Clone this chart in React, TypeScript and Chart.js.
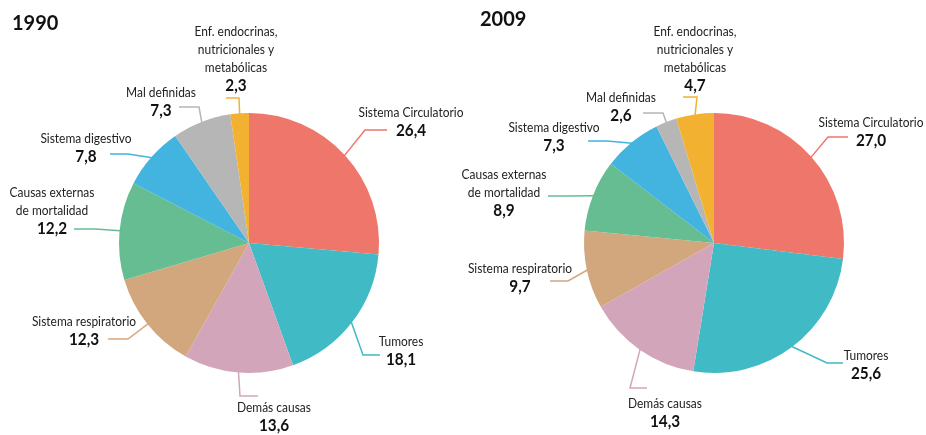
import React, { useEffect, useRef } from "react";
import { Chart, registerables } from "chart.js";

Chart.register(...registerables);

// ---- data ----
const categoryLines: string[][] = [
  ["Sistema Circulatorio"],
  ["Tumores"],
  ["Demás causas"],
  ["Sistema respiratorio"],
  ["Causas externas", "de mortalidad"],
  ["Sistema digestivo"],
  ["Mal definidas"],
  ["Enf. endocrinas,", "nutricionales y", "metabólicas"],
];
const categories = categoryLines.map((l) => l.join(" "));
const values1990 = [26.4, 18.1, 13.6, 12.3, 12.2, 7.8, 7.3, 2.3];
const values2009 = [27.0, 25.6, 14.3, 9.7, 8.9, 7.3, 2.6, 4.7];
const years = ["1990", "2009"];

const colors = [
  "#EE766B",
  "#40BAC4",
  "#D3A5BA",
  "#D3A77D",
  "#65BD91",
  "#43B3DF",
  "#B6B6B6",
  "#F3B132",
];

// ---- label layout (relative to pie centre): elbow, end of leader, text centre/value line ----
type Lay = { ex: number; ey: number; hx: number; cx: number; vy: number };
const layout1990: Lay[] = [
  { ex: 116, ey: -113, hx: 138, cx: 162, vy: -112 },
  { ex: 114, ey: 112, hx: 131, cx: 152, vy: 117 },
  { ex: -9, ey: 153, hx: 9, cx: 25, vy: 183 },
  { ex: -121, ey: 96, hx: -141, cx: -165, vy: 97 },
  { ex: -154, ey: -14, hx: -175, cx: -197, vy: -14 },
  { ex: -121, ey: -89, hx: -139, cx: -163, vy: -86 },
  { ex: -50, ey: -136, hx: -70, cx: -88, vy: -132 },
  { ex: -10, ey: -145, hx: -23, cx: -13, vy: -157 },
];
const layout2009: Lay[] = [
  { ex: 114, ey: -106, hx: 134, cx: 157, vy: -102 },
  { ex: 113, ey: 120, hx: 129, cx: 152, vy: 131 },
  { ex: -84, ey: 145, hx: -67, cx: -49, vy: 179 },
  { ex: -146, ey: 38, hx: -164, cx: -194, vy: 44 },
  { ex: -147, ey: -47, hx: -166, cx: -210, vy: -32 },
  { ex: -107, ey: -102, hx: -126, cx: -160, vy: -97 },
  { ex: -51, ey: -130, hx: -71, cx: -93, vy: -127 },
  { ex: -17, ey: -146, hx: -31, cx: -19, vy: -157 },
];

const FONT = "Lato, 'Open Sans', sans-serif";

function fmt(v: number) {
  return v.toFixed(1).replace(".", ",");
}

function narrowText(ctx: CanvasRenderingContext2D, t: string, x: number, y: number, sx: number) {
  ctx.save();
  ctx.translate(x, y);
  ctx.scale(sx, 1);
  ctx.fillText(t, 0, 0);
  ctx.restore();
}

function makeLabelPlugin(title: string, titleX: number, titleY: number, lay: Lay[], values: number[]) {
  return {
    id: "pieLabels",
    afterDraw(chart: any) {
      const ctx = chart.ctx as CanvasRenderingContext2D;
      const meta = chart.getDatasetMeta(0);
      ctx.save();
      // title
      ctx.fillStyle = "#111";
      ctx.font = `bold 20px ${FONT}`;
      ctx.textAlign = "left";
      ctx.textBaseline = "middle";
      ctx.fillText(title, titleX, titleY);

      meta.data.forEach((arc: any, i: number) => {
        const p = arc.getProps(["x", "y", "startAngle", "endAngle", "outerRadius"], true);
        const mid = (p.startAngle + p.endAngle) / 2;
        const sx = p.x + Math.cos(mid) * (p.outerRadius - 1);
        const sy = p.y + Math.sin(mid) * (p.outerRadius - 1);
        const L = lay[i];
        ctx.strokeStyle = colors[i];
        ctx.lineWidth = 1.5;
        ctx.beginPath();
        ctx.moveTo(sx, sy);
        ctx.lineTo(p.x + L.ex, p.y + L.ey);
        ctx.lineTo(p.x + L.hx, p.y + L.ey);
        ctx.stroke();

        const lines = categoryLines[i];
        ctx.textAlign = "center";
        ctx.textBaseline = "middle";
        ctx.fillStyle = "#222";
        ctx.font = `13px ${FONT}`;
        lines.forEach((t, k) => {
          narrowText(ctx, t, p.x + L.cx, p.y + L.vy - 18 * (lines.length - k), 0.92);
        });
        ctx.fillStyle = "#111";
        ctx.font = `bold 17px ${FONT}`;
        narrowText(ctx, fmt(values[i]), p.x + L.cx, p.y + L.vy, 0.9);
      });
      ctx.restore();
    },
  };
}

function PieCanvas(props: {
  values: number[];
  title: string;
  titleX: number;
  titleY: number;
  lay: Lay[];
  padding: { left: number; right: number; top: number; bottom: number };
}) {
  const ref = useRef<HTMLCanvasElement | null>(null);
  useEffect(() => {
    if (!ref.current) return;
    const chart = new Chart(ref.current, {
      type: "pie",
      data: {
        labels: categories,
        datasets: [
          {
            data: props.values,
            backgroundColor: colors,
            borderWidth: 0,
          },
        ],
      },
      options: {
        animation: false,
        responsive: false,
        maintainAspectRatio: false,
        layout: { padding: props.padding },
        plugins: {
          legend: { display: false },
          tooltip: { enabled: false },
          title: { display: false },
        },
      },
      plugins: [makeLabelPlugin(props.title, props.titleX, props.titleY, props.lay, props.values)],
    });
    return () => chart.destroy();
  }, []);
  return (
    <canvas
      ref={ref}
      width={926}
      height={435}
      style={{ position: "absolute", left: 0, top: 0, width: 926, height: 435 }}
    />
  );
}

export default function App() {
  return (
    <div
      style={{
        position: "fixed",
        left: 0,
        top: 0,
        width: 926,
        height: 435,
        background: "#fff",
        overflow: "hidden",
      }}
    >
      <PieCanvas
        values={values1990}
        title={years[0]}
        titleX={12}
        titleY={24}
        lay={layout1990}
        padding={{ left: 119, right: 547, top: 113, bottom: 62 }}
      />
      <PieCanvas
        values={values2009}
        title={years[1]}
        titleX={480}
        titleY={20}
        lay={layout2009}
        padding={{ left: 584, right: 82, top: 113, bottom: 62 }}
      />
    </div>
  );
}
